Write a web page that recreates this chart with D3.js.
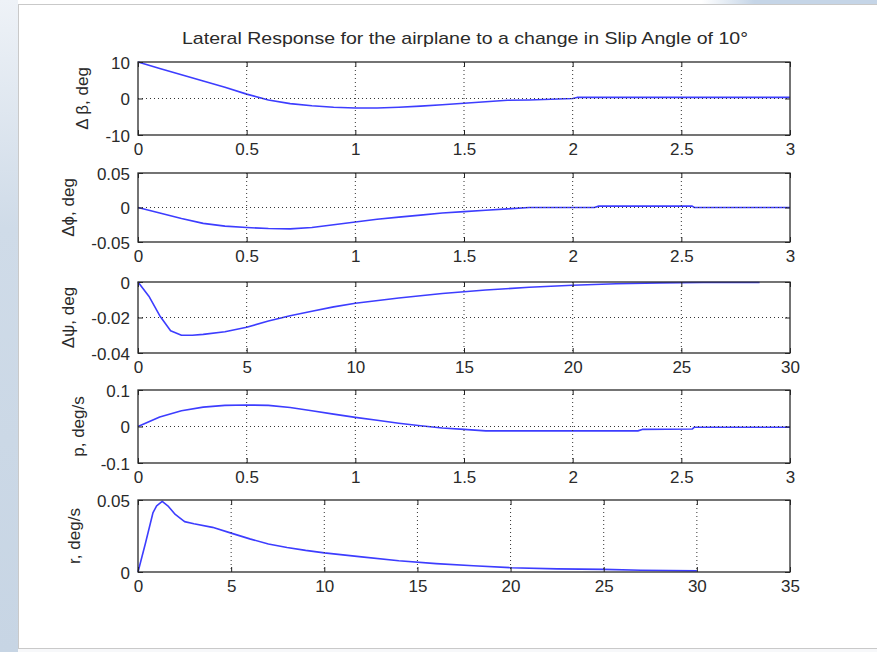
<!DOCTYPE html>
<html>
<head>
<meta charset="utf-8">
<script src="https://cdn.jsdelivr.net/npm/d3@7"></script>
<style>
  body { margin: 0; padding: 0; background: #ffffff; }
  svg { display: block; }
  text { font-family: Arial, "Liberation Sans", Helvetica, sans-serif; fill: #2a2a2a; }
</style>
</head>
<body>
<svg id="chart" width="877" height="652"></svg>
<script>
// ---------- DATA ----------
const title = "Lateral Response for the airplane to a change in Slip Angle of 10°";

// Panel 1: Δβ (deg) vs time
const tBeta = [0, 0.1, 0.2, 0.3, 0.4, 0.5, 0.6, 0.7, 0.8, 0.9, 1.0, 1.1, 1.2, 1.3, 1.4, 1.5, 1.6, 1.7, 1.8, 1.9, 2.0, 2.02, 2.5, 3.0];
const vBeta = [10, 8.2, 6.5, 4.8, 3.1, 1.2, -0.4, -1.4, -2.0, -2.4, -2.6, -2.6, -2.4, -2.1, -1.7, -1.3, -0.9, -0.5, -0.4, -0.2, 0, 0.3, 0.3, 0.3];

// Panel 2: Δϕ (deg)
const tPhi = [0, 0.1, 0.2, 0.3, 0.4, 0.5, 0.6, 0.7, 0.8, 0.9, 1.0, 1.1, 1.2, 1.3, 1.4, 1.5, 1.6, 1.7, 1.8, 2.1, 2.12, 2.55, 2.56, 3.0];
const vPhi = [0, -0.008, -0.016, -0.023, -0.027, -0.029, -0.0305, -0.031, -0.029, -0.025, -0.021, -0.017, -0.014, -0.011, -0.008, -0.006, -0.004, -0.002, 0, 0, 0.002, 0.002, 0, 0];

// Panel 3: Δψ (deg)
const tPsi = [0, 0.5, 1, 1.5, 2, 2.5, 3, 4, 5, 6, 7, 8, 9, 10, 12, 14, 16, 18, 20, 22, 24, 26, 28.6];
const vPsi = [0, -0.008, -0.019, -0.0275, -0.030, -0.030, -0.0295, -0.028, -0.0255, -0.022, -0.019, -0.0165, -0.014, -0.012, -0.009, -0.0065, -0.0045, -0.003, -0.0018, -0.001, -0.0005, -0.0003, -0.0003];

// Panel 4: p (deg/s)
const tP = [0, 0.1, 0.2, 0.3, 0.4, 0.5, 0.6, 0.7, 0.8, 0.9, 1.0, 1.1, 1.2, 1.3, 1.4, 1.5, 1.6, 2.0, 2.3, 2.32, 2.55, 2.56, 3.0];
const vP = [0, 0.026, 0.043, 0.053, 0.058, 0.059, 0.058, 0.052, 0.043, 0.034, 0.025, 0.017, 0.009, 0.002, -0.004, -0.008, -0.012, -0.012, -0.012, -0.008, -0.007, -0.002, -0.002];

// Panel 5: r (deg/s)
const tR = [0, 0.4, 0.8, 1.0, 1.3, 1.6, 2.0, 2.5, 3, 4, 5, 6, 7, 8, 9, 10, 12, 14, 16, 18, 20, 22.5, 25, 27, 30];
const vR = [0, 0.02, 0.041, 0.046, 0.049, 0.046, 0.04, 0.035, 0.0335, 0.031, 0.027, 0.023, 0.0195, 0.017, 0.015, 0.0133, 0.0105, 0.0078, 0.0058, 0.0043, 0.003, 0.0022, 0.0018, 0.0012, 0.0008];

// Axis ticks
const xTicks3 = [0, 0.5, 1, 1.5, 2, 2.5, 3];
const xTicks30 = [0, 5, 10, 15, 20, 25, 30];
const xTicks35 = [0, 5, 10, 15, 20, 25, 30, 35];
const yTicksBeta = [-10, 0, 10];
const yTicksPhi = [-0.05, 0, 0.05];
const yTicksPsi = [-0.04, -0.02, 0];
const yTicksP = [-0.1, 0, 0.1];
const yTicksR = [0, 0.05];
const yLabels = ["Δ β, deg", "Δϕ, deg", "Δψ, deg", "p, deg/s", "r, deg/s"];

// ---------- LAYOUT ----------
const svg = d3.select("#chart");
const W = 877, H = 652;
const left = 138, right = 790;
const tops = [62, 173, 282, 390, 500];
const heights = [73, 69, 71, 73, 72];

// background (slide look)
const defs = svg.append("defs");
const lg = defs.append("linearGradient").attr("id", "lstrip").attr("x1", 0).attr("y1", 0).attr("x2", 0).attr("y2", 1);
lg.append("stop").attr("offset", "0%").attr("stop-color", "#eef2f7");
lg.append("stop").attr("offset", "35%").attr("stop-color", "#cfdbe8");
lg.append("stop").attr("offset", "100%").attr("stop-color", "#c7d5e4");
const tg = defs.append("linearGradient").attr("id", "tstrip").attr("x1", 0).attr("y1", 0).attr("x2", 1).attr("y2", 0);
tg.append("stop").attr("offset", "0%").attr("stop-color", "#ffffff");
tg.append("stop").attr("offset", "80%").attr("stop-color", "#ffffff");
tg.append("stop").attr("offset", "86%").attr("stop-color", "#c5d5e7");
tg.append("stop").attr("offset", "100%").attr("stop-color", "#c5d5e7");

svg.append("rect").attr("width", W).attr("height", H).attr("fill", "#f7f8fa");
svg.append("rect").attr("x", 0).attr("y", 0).attr("width", W).attr("height", 5).attr("fill", "url(#tstrip)");
svg.append("rect").attr("x", 0).attr("y", 0).attr("width", 18).attr("height", H).attr("fill", "url(#lstrip)");
svg.append("rect").attr("x", 18.5).attr("y", 4.5).attr("width", W).attr("height", 644)
  .attr("fill", "#ffffff").attr("stroke", "#c9c9c9").attr("stroke-width", 1);

// title
svg.append("text")
  .attr("x", (left + right) / 2 + 1).attr("y", 44)
  .attr("text-anchor", "middle")
  .attr("font-size", 17)
  .attr("textLength", 566).attr("lengthAdjust", "spacingAndGlyphs")
  .text(title);

const panels = [
  { t: tBeta, v: vBeta, xd: [0, 3], xt: xTicks3, yd: [-10, 10], yt: yTicksBeta },
  { t: tPhi, v: vPhi, xd: [0, 3], xt: xTicks3, yd: [-0.05, 0.05], yt: yTicksPhi },
  { t: tPsi, v: vPsi, xd: [0, 30], xt: xTicks30, yd: [-0.04, 0], yt: yTicksPsi },
  { t: tP, v: vP, xd: [0, 3], xt: xTicks3, yd: [-0.1, 0.1], yt: yTicksP },
  { t: tR, v: vR, xd: [0, 35], xt: xTicks35, yd: [0, 0.05], yt: yTicksR }
];

const fmt = d => (d === 0 ? "0" : String(+d.toFixed(4)));

panels.forEach((p, i) => {
  const top = tops[i], bot = tops[i] + heights[i];
  const x = d3.scaleLinear().domain(p.xd).range([left, right]);
  const y = d3.scaleLinear().domain(p.yd).range([bot, top]);
  const g = svg.append("g");

  // line
  const pts = p.t.map((t, k) => [t, p.v[k]]);
  g.append("path")
    .datum(pts)
    .attr("fill", "none")
    .attr("stroke", "#3d3dff")
    .attr("stroke-width", 1.6)
    .attr("stroke-linejoin", "round")
    .attr("d", d3.line().x(d => x(d[0])).y(d => y(d[1])));

  // grid (dotted)
  const grid = g.append("g").attr("stroke", "#333").attr("stroke-width", 1).attr("stroke-dasharray", "1,3");
  p.xt.forEach(t => {
    if (x(t) > left + 1 && x(t) < right - 1)
      grid.append("line").attr("x1", x(t)).attr("x2", x(t)).attr("y1", top).attr("y2", bot);
  });
  p.yt.forEach(v => {
    if (y(v) > top + 1 && y(v) < bot - 1)
      grid.append("line").attr("x1", left).attr("x2", right).attr("y1", y(v)).attr("y2", y(v));
  });

  // axes
  const ax = g.append("g").attr("transform", `translate(0,${bot})`)
    .call(d3.axisBottom(x).tickValues(p.xt).tickFormat(fmt).tickSizeInner(-5).tickSizeOuter(0).tickPadding(8));
  const ay = g.append("g").attr("transform", `translate(${left},0)`)
    .call(d3.axisLeft(y).tickValues(p.yt).tickFormat(fmt).tickSizeInner(-5).tickSizeOuter(0).tickPadding(8));
  // mirrored ticks top/right
  g.append("g").attr("transform", `translate(0,${top})`)
    .call(d3.axisTop(x).tickValues(p.xt).tickFormat("").tickSizeInner(-5).tickSizeOuter(0));
  g.append("g").attr("transform", `translate(${right},0)`)
    .call(d3.axisRight(y).tickValues(p.yt).tickFormat("").tickSizeInner(-5).tickSizeOuter(0));

  g.selectAll(".domain").remove();
  g.selectAll(".tick line").attr("stroke", "#222");
  [ax, ay].forEach(a => a.selectAll("text")
    .attr("font-size", 17)
    .attr("font-family", "Arial, 'Liberation Sans', sans-serif")
    .attr("fill", "#2a2a2a"));
  ay.selectAll("text").attr("dy", "0.36em");

  // box
  g.append("rect").attr("x", left).attr("y", top).attr("width", right - left).attr("height", bot - top)
    .attr("fill", "none").attr("stroke", "#2a2a2a").attr("stroke-width", 1.3);

  // y label placed left of tick labels
  let minLeft = left;
  ay.selectAll("text").each(function () {
    const bb = this.getBoundingClientRect();
    minLeft = Math.min(minLeft, bb.left);
  });
  svg.append("text")
    .attr("transform", `translate(${minLeft - 17},${(top + bot) / 2}) rotate(-90)`)
    .attr("text-anchor", "middle")
    .attr("font-size", 17)
    .text(yLabels[i]);
});
</script>
</body>
</html>
